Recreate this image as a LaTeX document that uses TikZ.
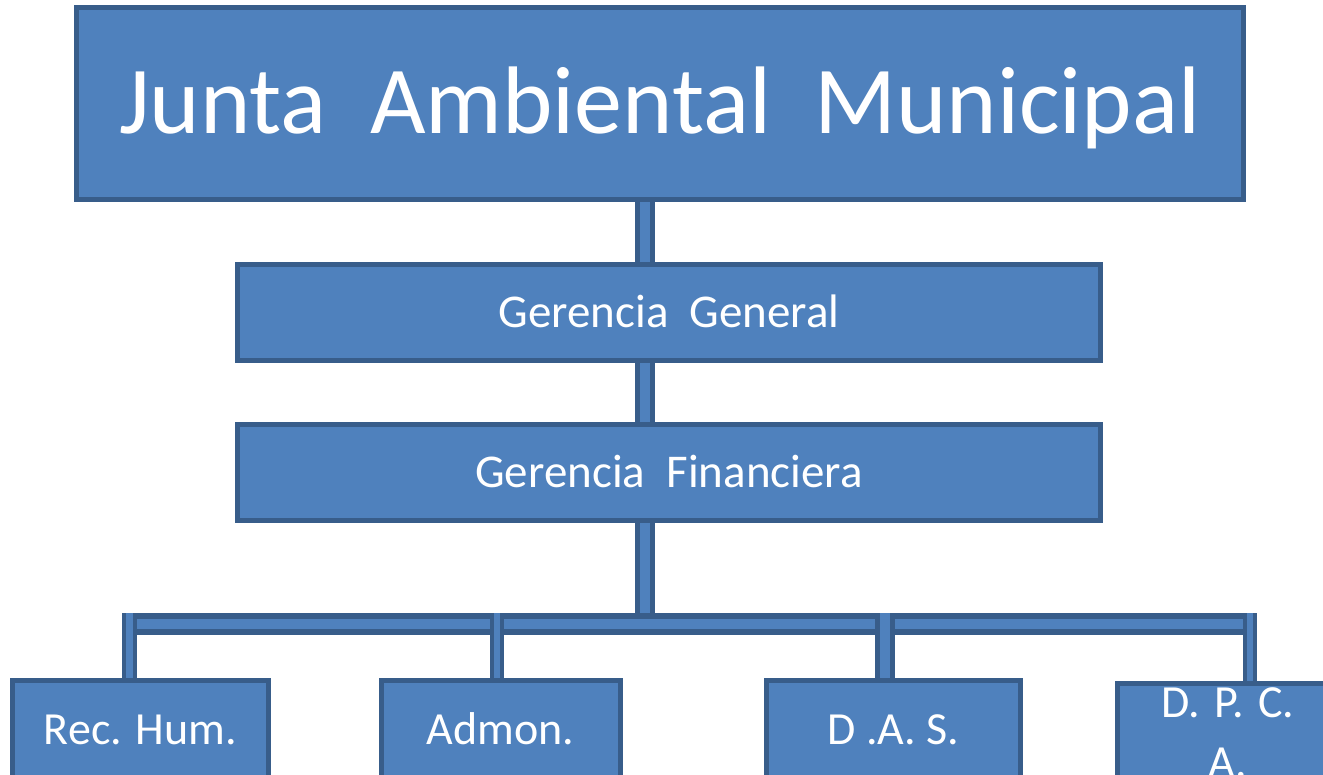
\documentclass[tikz,border=0pt]{standalone}
\usepackage{fontspec}
\setmainfont{Carlito}
\definecolor{unitfill}{HTML}{4F81BD}
\definecolor{unitline}{HTML}{385D8A}
\begin{document}
\begin{tikzpicture}[x=1pt,y=-1pt]
  \tikzstyle{every node}=[rectangle,draw=unitline,fill=unitfill,line width=5pt,inner sep=0pt,text=white]
  \tikzstyle{top unit}=[minimum width=1167pt,minimum height=192pt,text height=60.5pt,text depth=0pt,font=\fontsize{96}{115}\selectfont]
  \tikzstyle{mid unit}=[minimum width=863pt,minimum height=96pt,text height=29.5pt,text depth=0pt,font=\fontsize{47}{56}\selectfont]
  \tikzstyle{low unit}=[minimum height=99pt,text height=29pt,text depth=0pt,font=\fontsize{46}{55}\selectfont]
  \tikzstyle{bar}=[draw=unitline,line width=5pt,double=unitfill,double distance=10.5pt]
  \tikzstyle{drop}=[draw=unitline,line width=4pt,double=unitfill,double distance=6.5pt]
  \clip (0,0) rectangle (1323,775);
  \fill[white] (0,0) rectangle (1323,775);
  \node[top unit] (junta) at (660,103.5) {Junta~~Ambiental~~Municipal};
  \node[mid unit] (gg) at (669,312.5) {Gerencia~~General};
  \node[mid unit] (gf) at (669,472.5) {Gerencia~~Financiera};
  \node[low unit,minimum width=256pt] (rec) at (140.5,730) {Rec. Hum.};
  \node[low unit,minimum width=239pt] (adm) at (500.5,730) {Admon.};
  \node[low unit,minimum width=254pt] (das) at (893.5,730) {D .A. S.};
  \node[minimum width=221pt,minimum height=99pt,align=center,font=\fontsize{46}{60}\selectfont] (dpc) at (1228,733) {D. \hspace{4pt}P. \hspace{4pt}C.\\A.};
  \coordinate (trunk) at (645,0);
  \coordinate (bus) at (0,624);
  \coordinate (dRec) at (129.5,613);
  \coordinate (dAdm) at (497,613);
  \coordinate (dDas) at (884.5,613);
  \coordinate (dDpc) at (1250,613);
  \draw[bar] (junta.south -| trunk) -- (gg.north -| trunk);
  \draw[bar] (gg.south -| trunk) -- (gf.north -| trunk);
  \draw[bar] (gf.south -| trunk) -- (trunk |- bus);
  \draw[bar,line width=5.5pt] (dRec |- bus) -- (dDpc |- bus);
  \draw[drop,double distance=7pt] (dRec) -- (rec.north -| dRec);
  \draw[drop] (dAdm) -- (adm.north -| dAdm);
  \draw[drop,line width=5pt,double distance=10pt] (dDas) -- (das.north -| dDas);
  \draw[drop] (dDpc) -- (dpc.north -| dDpc);
\end{tikzpicture}
\end{document}
